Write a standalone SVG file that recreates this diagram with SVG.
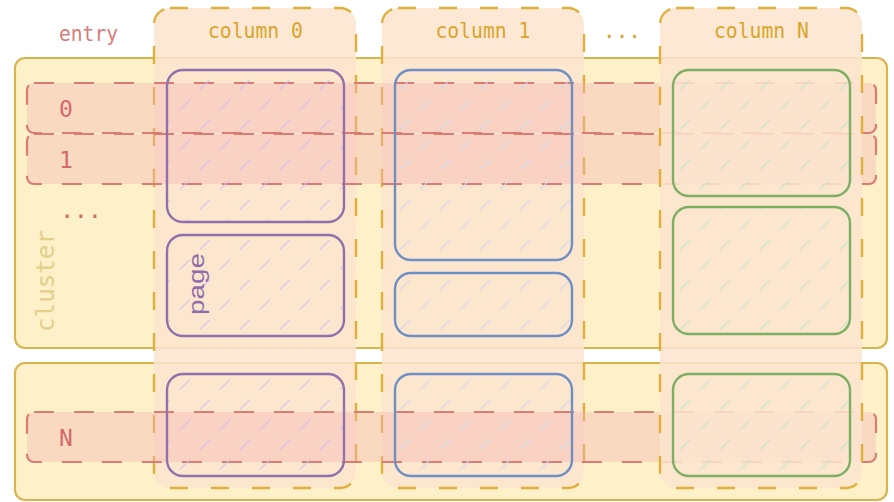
<svg xmlns="http://www.w3.org/2000/svg" width="894" height="502" viewBox="0 0 894 502">
<defs>
<pattern id="hatch-p" width="40" height="40" patternUnits="userSpaceOnUse"><path d="M0.5 9 L9.5 0 M20.5 29 L29.5 20" stroke="#cdbff0" stroke-opacity="0.7" stroke-width="1.5" stroke-linecap="round"/></pattern>
<pattern id="hatch-b" width="40" height="40" patternUnits="userSpaceOnUse"><path d="M0.5 9 L9.5 0 M20.5 29 L29.5 20" stroke="#cbd9f2" stroke-opacity="0.7" stroke-width="1.5" stroke-linecap="round"/></pattern>
<pattern id="hatch-g" width="40" height="40" patternUnits="userSpaceOnUse"><path d="M0.5 9 L9.5 0 M20.5 29 L29.5 20" stroke="#bfe4d2" stroke-opacity="0.7" stroke-width="1.5" stroke-linecap="round"/></pattern>
<style>
.cluster{fill:#fef0c9;stroke:#d8b44f;stroke-width:2.2}
.col{fill:#fde4cf;fill-opacity:0.85;stroke:#e0b03c;stroke-width:2.4;stroke-dasharray:18 23}
.row{fill:#f2b4b4;fill-opacity:0.38;stroke:#d97d74;stroke-width:2.2;stroke-dasharray:20 20}
.page{stroke-width:2.4}
.pp{fill:url(#hatch-p);stroke:#9270ad}
.pb{fill:url(#hatch-b);stroke:#6d8fc6}
.pg{fill:url(#hatch-g);stroke:#7cae64}
.mono{font-family:"DejaVu Sans Mono","Liberation Mono",monospace}
.hdr{font-size:21px;fill:#d9a52a;text-anchor:middle}
.entry{font-size:21px;fill:#d97b7b;text-anchor:middle}
.rowlbl{font-size:23px;fill:#d4686a;text-anchor:middle}
</style>
</defs>

<g id="cluster-0"><rect class="cluster" x="15" y="58" width="872" height="290" rx="10"/></g>
<g id="cluster-1"><rect class="cluster" x="15" y="363" width="872" height="137" rx="10"/></g>
<text class="mono" x="54" y="281" transform="rotate(-90 54 281)" font-size="25" fill="#e4d08a" text-anchor="middle" textLength="102" lengthAdjust="spacingAndGlyphs">cluster</text>

<g id="column-0"><rect class="col" x="154" y="8" width="202" height="480" rx="16"/></g>
<g id="column-1"><rect class="col" x="382" y="8" width="202" height="480" rx="16"/></g>

<g id="rows">
<g id="entry-0"><rect class="row" x="27" y="83" width="849" height="50" rx="7"/></g>
<g id="entry-1"><rect class="row" x="27" y="134" width="849" height="50" rx="7"/></g>
<g id="entry-N"><rect class="row" x="27" y="412" width="849" height="50" rx="7"/></g>
</g>

<g id="column-N"><rect class="col" x="660" y="8" width="202" height="480" rx="16"/></g>

<g id="pages-col0">
<g id="page-0a"><rect class="page pp" x="167" y="70" width="177" height="152" rx="16"/></g>
<g id="page-0b"><rect class="page pp" x="167" y="235" width="177" height="101" rx="16"/>
<text x="203.5" y="284" transform="rotate(-90 203.5 284)" font-family="'Liberation Sans','DejaVu Sans',sans-serif" font-size="22" fill="#8f6dab" text-anchor="middle" textLength="62" lengthAdjust="spacingAndGlyphs">page</text></g>
<g id="page-0c"><rect class="page pp" x="167" y="374" width="177" height="102" rx="16"/></g>
</g>
<g id="pages-col1">
<g id="page-1a"><rect class="page pb" x="395" y="70" width="177" height="190" rx="16"/></g>
<g id="page-1b"><rect class="page pb" x="395" y="273" width="177" height="63" rx="16"/></g>
<g id="page-1c"><rect class="page pb" x="395" y="374" width="177" height="102" rx="16"/></g>
</g>
<g id="pages-colN">
<g id="page-Na"><rect class="page pg" x="673" y="70" width="177" height="126" rx="16"/></g>
<g id="page-Nb"><rect class="page pg" x="673" y="207" width="177" height="127" rx="16"/></g>
<g id="page-Nc"><rect class="page pg" x="673" y="374" width="177" height="102" rx="16"/></g>
</g>

<g id="labels" class="mono">
<text class="entry" x="88.5" y="41" textLength="59" lengthAdjust="spacingAndGlyphs">entry</text>
<text class="hdr" x="255.5" y="38" textLength="95" lengthAdjust="spacingAndGlyphs">column 0</text>
<text class="hdr" x="483" y="38" textLength="95" lengthAdjust="spacingAndGlyphs">column 1</text>
<text class="hdr" x="622" y="38">...</text>
<text class="hdr" x="761.5" y="38" textLength="95" lengthAdjust="spacingAndGlyphs">column N</text>
<text class="rowlbl" x="66" y="117">0</text>
<text class="rowlbl" x="66" y="167.5">1</text>
<text class="rowlbl" x="81" y="218" font-size="25">...</text>
<text class="rowlbl" x="66" y="446">N</text>
</g>
</svg>
